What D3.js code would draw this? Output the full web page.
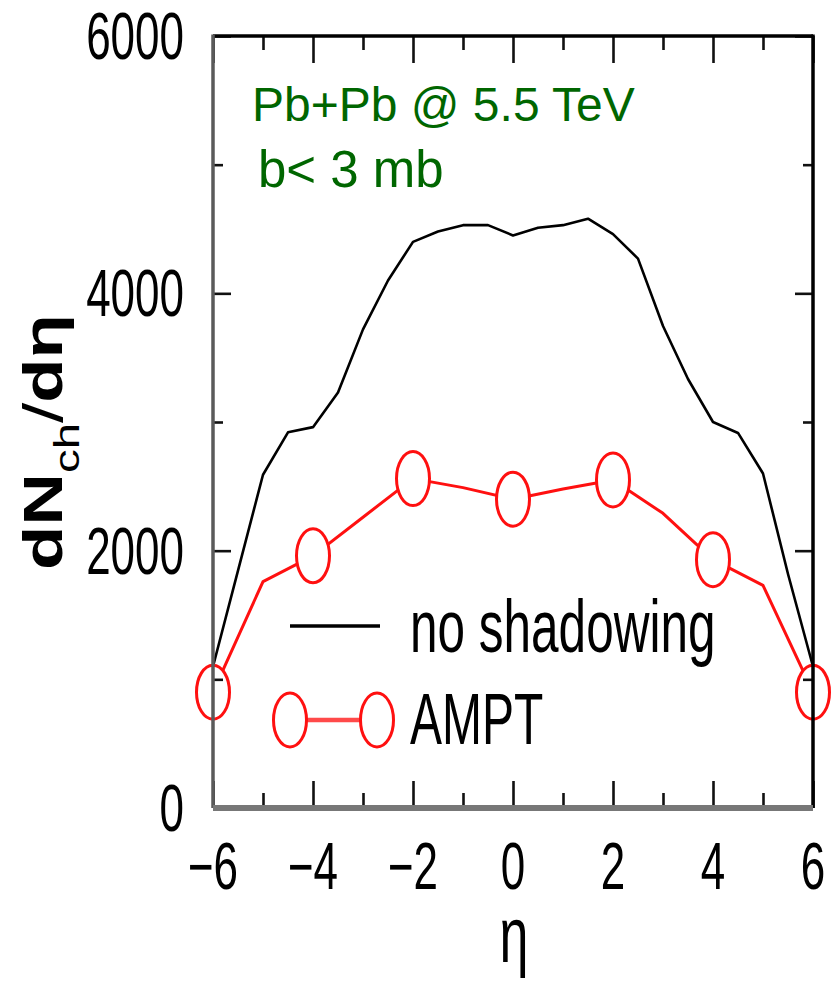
<!DOCTYPE html>
<html>
<head>
<meta charset="utf-8">
<script src="https://cdn.jsdelivr.net/npm/d3@7"></script>
<style>
  html, body { margin: 0; padding: 0; background: #fff; }
  svg { display: block; }
  text { font-family: "Liberation Sans", Arial, Helvetica, sans-serif; }
</style>
</head>
<body>
<svg id="chart" width="831" height="982"></svg>
<script>
// pseudorapidity grid and charged multiplicity, Pb+Pb @ 5.5 TeV, b < 3 fm
const etaFine = [-6, -5.5, -5, -4.5, -4, -3.5, -3, -2.5, -2, -1.5, -1, -0.5, 0,
                 0.5, 1, 1.5, 2, 2.5, 3, 3.5, 4, 4.5, 5, 5.5, 6];
const noShadowing = [1100, 1845, 2590, 2920, 2960, 3230, 3720, 4100, 4400, 4480, 4530, 4530, 4450,
                     4510, 4530, 4580, 4460, 4270, 3746, 3334, 3000, 2915, 2600, 1819, 1100];

const etaAmpt = [-6, -5, -4, -3, -2, -1, 0, 1, 2, 3, 4, 5, 6];
const ampt = [900, 1760, 1960, 2260, 2560, 2490, 2400, 2480, 2550, 2290, 1930, 1730, 900];

const xMajorTicks = [-6, -4, -2, 0, 2, 4, 6];
const xMinorTicks = [-5, -3, -1, 1, 3, 5];
const yMajorTicks = [0, 2000, 4000, 6000];
const yMinorTicks = [1000, 3000, 5000];

const legendLabels = ["no shadowing", "AMPT"];
const annotation = ["Pb+Pb @ 5.5 TeV", "b< 3 mb"];

const svg = d3.select("#chart");
const X0 = 213, X1 = 813, Y0 = 808, Y1 = 36;
const x = d3.scaleLinear().domain([-6, 6]).range([X0, X1]);
const y = d3.scaleLinear().domain([0, 6000]).range([Y0, Y1]);

// text is drawn vertically stretched, like the rest of the figure
const STRETCH = 1.5;
function label(parent, px, py, txt, size, anchor, opts = {}) {
  return parent.append("text")
    .attr("transform", `translate(${px},${py}) scale(1,${opts.sy || STRETCH})`)
    .attr("text-anchor", anchor)
    .attr("font-size", size)
    .attr("fill", opts.fill || "#000")
    .text(txt);
}

// --- curves ---
const line = d3.line().x(d => x(d[0])).y(d => y(d[1]));

svg.append("path")
  .datum(etaFine.map((e, i) => [e, noShadowing[i]]))
  .attr("d", line)
  .attr("fill", "none")
  .attr("stroke", "#000")
  .attr("stroke-width", 2.6)
  .attr("stroke-linejoin", "round");

svg.append("path")
  .datum(etaAmpt.map((e, i) => [e, ampt[i]]))
  .attr("d", line)
  .attr("fill", "none")
  .attr("stroke", "#ff1010")
  .attr("stroke-width", 3)
  .attr("stroke-linejoin", "round");

const RX = 16.5, RY = 27;
svg.append("g").selectAll("ellipse")
  .data(etaAmpt.map((e, i) => [e, ampt[i]]).filter(d => d[0] % 2 === 0))
  .join("ellipse")
  .attr("cx", d => x(d[0]))
  .attr("cy", d => y(d[1]))
  .attr("rx", RX)
  .attr("ry", RY)
  .attr("fill", "#fff")
  .attr("stroke", "#ff1010")
  .attr("stroke-width", 3);

// --- frame and ticks ---
function styleAxis(g) {
  g.select(".domain").remove();
  g.selectAll(".tick line").attr("stroke", "#111").attr("stroke-width", 2.6);
}
svg.append("g").attr("transform", `translate(0,${Y0})`)
  .call(d3.axisBottom(x).tickValues(xMajorTicks).tickSize(-27).tickFormat("")).call(styleAxis);
svg.append("g").attr("transform", `translate(0,${Y0})`)
  .call(d3.axisBottom(x).tickValues(xMinorTicks).tickSize(-15).tickFormat("")).call(styleAxis);
svg.append("g").attr("transform", `translate(0,${Y1})`)
  .call(d3.axisTop(x).tickValues(xMajorTicks).tickSize(-27).tickFormat("")).call(styleAxis);
svg.append("g").attr("transform", `translate(0,${Y1})`)
  .call(d3.axisTop(x).tickValues(xMinorTicks).tickSize(-14).tickFormat("")).call(styleAxis);
svg.append("g").attr("transform", `translate(${X0},0)`)
  .call(d3.axisLeft(y).tickValues(yMajorTicks).tickSize(-18).tickFormat("")).call(styleAxis);
svg.append("g").attr("transform", `translate(${X0},0)`)
  .call(d3.axisLeft(y).tickValues(yMinorTicks).tickSize(-10).tickFormat("")).call(styleAxis);
svg.append("g").attr("transform", `translate(${X1},0)`)
  .call(d3.axisRight(y).tickValues(yMajorTicks).tickSize(-18).tickFormat("")).call(styleAxis);
svg.append("g").attr("transform", `translate(${X1},0)`)
  .call(d3.axisRight(y).tickValues(yMinorTicks).tickSize(-10).tickFormat("")).call(styleAxis);

const frame = svg.append("g").attr("fill", "none");
frame.append("line").attr("x1", X0).attr("x2", X1).attr("y1", Y1).attr("y2", Y1)
  .attr("stroke", "#000").attr("stroke-width", 3.5);
frame.append("line").attr("x1", X1).attr("x2", X1).attr("y1", Y1 - 1.5).attr("y2", Y0)
  .attr("stroke", "#000").attr("stroke-width", 3.5);
frame.append("line").attr("x1", X0).attr("x2", X0).attr("y1", Y1 - 1.5).attr("y2", Y0)
  .attr("stroke", "#5a5a5a").attr("stroke-width", 3.5);
frame.append("line").attr("x1", X0).attr("x2", X1).attr("y1", Y0).attr("y2", Y0)
  .attr("stroke", "#777").attr("stroke-width", 6);

// --- tick labels ---
const fmtX = d => d < 0 ? "\u2212" + Math.abs(d) : String(d);
xMajorTicks.forEach(t => label(svg, x(t), 889, fmtX(t), 44, "middle"));
yMajorTicks.forEach(t => label(svg, 184, y(t) + 23, String(t), 44, "end"));

// --- axis titles ---
label(svg, 514, 962, "\u03b7", 52, "middle");

const yTitle = svg.append("text")
  .attr("transform", "translate(62,442) rotate(-90) scale(1.32,1)")
  .attr("text-anchor", "middle")
  .attr("font-size", 55)
  .attr("font-weight", "bold")
  .attr("fill", "#000");
yTitle.append("tspan").text("dN");
yTitle.append("tspan").attr("font-size", 36).attr("font-weight", "normal").attr("dy", 17).text("ch");
yTitle.append("tspan").attr("font-weight", "normal").attr("dy", -17).text("/");
yTitle.append("tspan").text("d\u03b7");

// --- annotation ---
svg.append("text").attr("x", 252).attr("y", 121).attr("font-size", 48)
  .attr("fill", "#006600").text(annotation[0]);
svg.append("text").attr("x", 258).attr("y", 187).attr("font-size", 51)
  .attr("fill", "#006600").text(annotation[1]);

// --- legend ---
const leg = svg.append("g");
leg.append("line").attr("x1", 290).attr("x2", 380).attr("y1", 626).attr("y2", 626)
  .attr("stroke", "#000").attr("stroke-width", 3.5);
label(leg, 410, 652, legendLabels[0], 49.5, "start");

leg.append("line").attr("x1", 290).attr("x2", 377).attr("y1", 720).attr("y2", 720)
  .attr("stroke", "#ff4a4a").attr("stroke-width", 4.5);
[290, 377].forEach(cx => leg.append("ellipse")
  .attr("cx", cx).attr("cy", 720).attr("rx", RX).attr("ry", RY)
  .attr("fill", "#fff").attr("stroke", "#ff1010").attr("stroke-width", 3));
label(leg, 410, 744, legendLabels[1], 48, "start");
</script>
</body>
</html>
